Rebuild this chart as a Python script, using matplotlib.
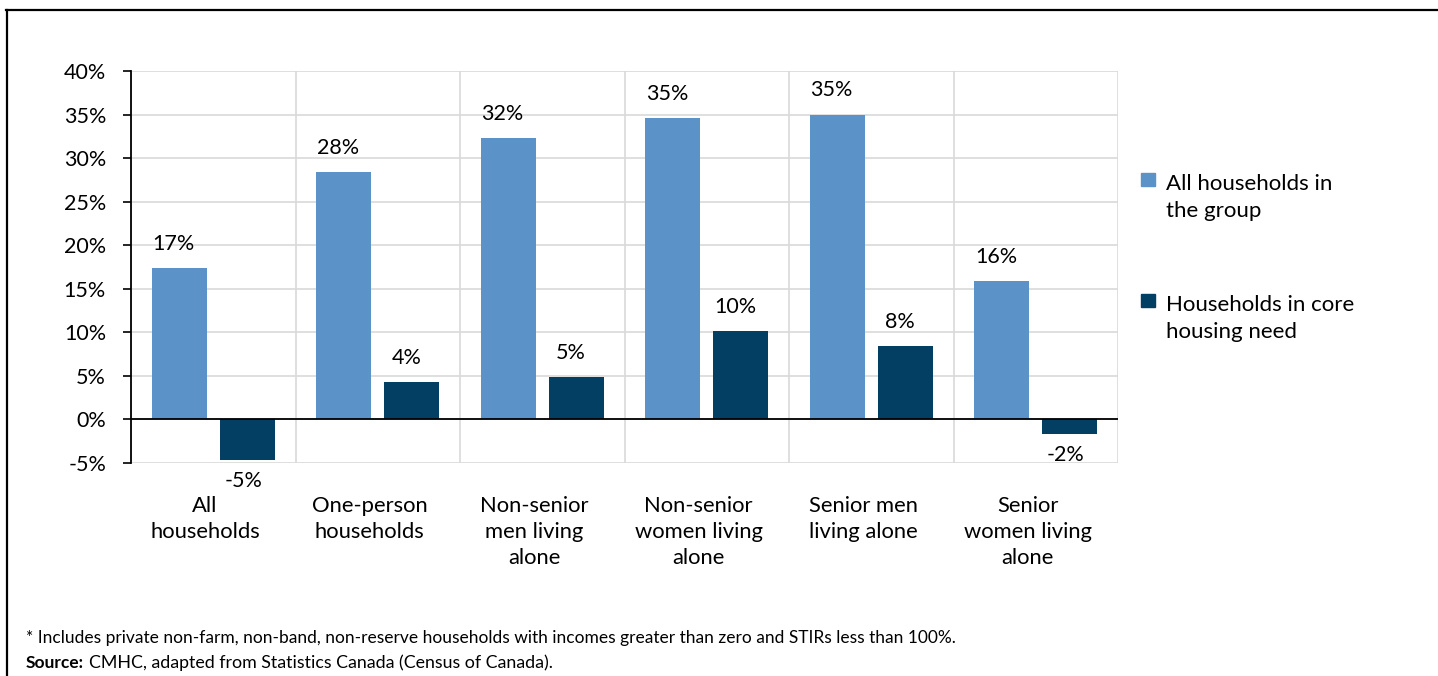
import matplotlib
matplotlib.use("Agg")
import matplotlib.pyplot as plt
from matplotlib.patches import Rectangle
from matplotlib.lines import Line2D
from matplotlib.ticker import FuncFormatter

plt.rcParams['font.family'] = ['Lato', 'DejaVu Sans']

categories = [
    "All\nhouseholds",
    "One-person\nhouseholds",
    "Non-senior\nmen living\nalone",
    "Non-senior\nwomen living\nalone",
    "Senior men\nliving alone",
    "Senior\nwomen living\nalone",
]
series_names = ["All households in\nthe group", "Households in core\nhousing need"]
all_households = [17.4, 28.4, 32.3, 34.6, 35.0, 15.9]
core_need = [-4.6, 4.3, 4.9, 10.1, 8.4, -1.7]
y_ticks = [-5, 0, 5, 10, 15, 20, 25, 30, 35, 40]

LIGHT = "#5b93c8"
DARK = "#023f62"
GRID = "#d9d9d9"

W, H = 1438, 676
fig = plt.figure(figsize=(W / 100, H / 100), dpi=100)
ax = fig.add_axes([131 / W, 1 - 463 / H, (1118 - 131) / W, (463 - 71) / H])

n = len(categories)
x = list(range(n))
bw = 0.334
off = 0.208

b1 = ax.bar([i - off for i in x], all_households, bw, color=LIGHT, zorder=3)
b2 = ax.bar([i + off for i in x], core_need, bw, color=DARK, zorder=3)

ax.set_xlim(-0.5, n - 0.5)
ax.set_ylim(-5, 40)
ax.set_yticks(y_ticks)
ax.yaxis.set_major_formatter(FuncFormatter(lambda v, p: f"{int(v)}%"))
ax.set_xticks([])

# grid: horizontal at ticks, vertical at category boundaries
for t in y_ticks:
    ax.axhline(t, color=GRID, lw=1.2, zorder=1)
for b in range(n + 1):
    ax.axvline(b - 0.5, color=GRID, lw=1.2, zorder=1)
ax.axhline(0, color="black", lw=1.3, zorder=4)

for s in ["top", "right", "bottom"]:
    ax.spines[s].set_visible(False)
ax.spines["left"].set_color("black")
ax.spines["left"].set_linewidth(1.3)
ax.spines["left"].set_zorder(5)
ax.tick_params(axis="y", direction="out", length=6, width=1.2, pad=12,
               labelsize=15.5, colors="black")

# value labels
for bars, vals in ((b1, all_households), (b2, core_need)):
    for rect, v in zip(bars, vals):
        cx = rect.get_x() + rect.get_width() / 2
        if v >= 0:
            ax.annotate(f"{round(v):.0f}%", (cx, v), xytext=(-4, 13),
                        textcoords="offset points", ha="center", va="baseline",
                        fontsize=15.5)
        else:
            ax.annotate(f"{round(v):.0f}%", (cx, v), xytext=(-3, -19.5),
                        textcoords="offset points", ha="center", va="baseline",
                        fontsize=15.5)

# category labels below the plot
trans = ax.get_xaxis_transform()
for i, lab in enumerate(categories):
    ax.text(i - 0.05, -0.085, lab, transform=trans, ha="center", va="top",
            fontsize=15.8, linespacing=1.36, multialignment="center")

# legend
for (name, col, ytop) in ((series_names[0], LIGHT, 173), (series_names[1], DARK, 294)):
    fig.add_artist(Rectangle((1141 / W, 1 - (ytop + 13) / H), 14 / W, 13 / H,
                             transform=fig.transFigure, color=col))
    fig.text(1166 / W, 1 - (ytop + 1) / H, name, ha="left", va="top",
             fontsize=16, linespacing=1.45)

# outer frame (top and left edges)
fig.add_artist(Line2D([6 / W, 1], [1 - 9.5 / H, 1 - 9.5 / H], transform=fig.transFigure,
                      color="black", lw=1.6))
fig.add_artist(Line2D([6.5 / W, 6.5 / W], [0, 1 - 9.5 / H], transform=fig.transFigure,
                      color="black", lw=1.6))

# notes
fig.text(26 / W, 1 - 643 / H,
         "* Includes private non-farm, non-band, non-reserve households with incomes "
         "greater than zero and STIRs less than 100%.",
         ha="left", va="baseline", fontsize=12.5)
src = fig.text(26 / W, 1 - 668 / H, "Source:", ha="left", va="baseline",
               fontsize=12.5, fontweight="bold")
fig.canvas.draw()
bb = src.get_window_extent(renderer=fig.canvas.get_renderer())
fig.text(bb.x1 / W + 5 / W, 1 - 668 / H,
         "CMHC, adapted from Statistics Canada (Census of Canada).",
         ha="left", va="baseline", fontsize=12.8)

fig.savefig("out.png", dpi=100)
